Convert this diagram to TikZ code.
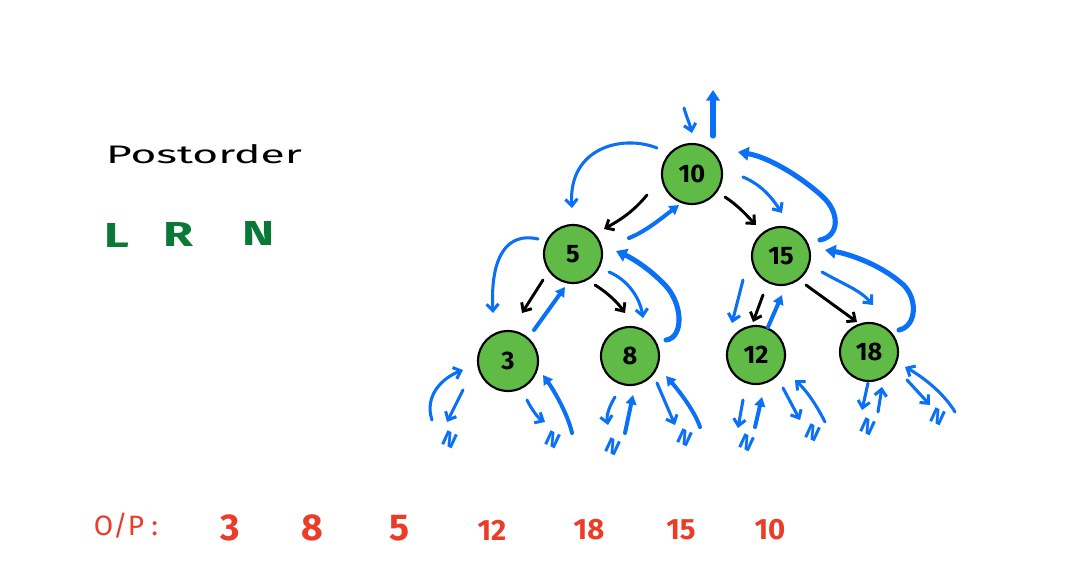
\documentclass[tikz,border=0pt]{standalone}
\usepackage{fontspec}
\setmainfont{Fira Sans}
\usepackage{graphicx}
\usetikzlibrary{arrows.meta,calc}
\definecolor{myblue}{RGB}{10,112,245}
\definecolor{nodegreen}{RGB}{96,186,70}
\definecolor{textgreen}{RGB}{10,120,55}
\definecolor{myred}{RGB}{235,60,40}
\begin{document}
\begin{tikzpicture}[x=0.75pt,y=-0.75pt,
  tnode/.style={circle,draw=black,line width=1.6pt,fill=nodegreen,minimum size=43.5pt,inner sep=0pt,
    font=\bfseries\fontsize{19}{19}\selectfont},
  bthin/.style={draw=myblue,line width=2.3pt,line cap=round,line join=round,-{Straight Barb[length=5pt,width=9pt]}},
  bmed/.style={draw=myblue,line width=3pt,line cap=round,line join=round,-{Triangle[length=7pt,width=8pt]}},
  bthick/.style={draw=myblue,line width=3.8pt,line cap=round,line join=round,-{Triangle[length=8pt,width=10pt]}},
  karrow/.style={draw=black,line width=2.2pt,line cap=round,line join=round,-{Straight Barb[length=5pt,width=9pt]}},
  nlab/.style={text=myblue,font=\bfseries\fontsize{16}{16}\selectfont,rotate=-25,inner sep=0pt},
  gtext/.style={text=textgreen,font=\bfseries\fontsize{26}{26}\selectfont,inner sep=0pt},
  rbig/.style={text=myred,font=\bfseries\fontsize{28}{28}\selectfont,inner sep=0pt},
  rsmall/.style={text=myred,font=\bfseries\fontsize{22}{22}\selectfont,inner sep=0pt}
]
\useasboundingbox (0,0) rectangle (1070,567);
\fill[white] (0,0) rectangle (1070,567);

% texts
\node[font=\fontsize{19}{19}\selectfont,inner sep=0pt] (title) at (204,154) {\scalebox{1.75}[1]{Postorder}};
\node[gtext] (L) at (117,235) {\scalebox{1.4}[1]{L}};
\node[gtext] (R) at (178,234) {\scalebox{1.4}[1]{R}};
\node[gtext] (N) at (259,233) {\scalebox{1.4}[1]{N}};

\node[text=myred,font=\fontsize{21}{21}\selectfont,inner sep=0pt] (op) at (126,526) {O/P :};
\node[rbig] (o1) at (230,528) {3};
\node[rbig] (o2) at (312,528) {8};
\node[rbig] (o3) at (399,528) {5};
\node[rsmall] (o4) at (492,530) {12};
\node[rsmall] (o5) at (589,530) {18};
\node[rsmall] (o6) at (681,530) {15};
\node[rsmall] (o7) at (770,530) {10};

% tree nodes
\node[tnode,minimum size=45pt] (n10) at (692,174) {10};
\node[tnode] (n5) at (573,254) {5};
\node[tnode] (n15) at (781,256) {15};
\node[tnode,minimum size=45pt] (n3) at (508,361) {3};
\node[tnode] (n8) at (630,356) {8};
\node[tnode] (n12) at (756,355) {12};
\node[tnode] (n18) at (869,352) {18};

% null labels
\node[nlab] (N3L) at (450,440) {N};
\node[nlab] (N3R) at (553,440) {N};
\node[nlab] (N8L) at (613,447) {N};
\node[nlab] (N8R) at (685,438) {N};
\node[nlab] (N12L) at (747,443) {N};
\node[nlab] (N12R) at (813,433) {N};
\node[nlab] (N18L) at (868,427) {N};
\node[nlab] (N18R) at (938,417) {N};

% around 10
\draw[bthin] ($(n10)+(-8,-66)$) .. controls (687,118) and (690,125) .. ($(n10)+(0,-41)$);
\draw[bthick] ($(n10)+(21,-38)$) -- ($(n10)+(21,-84)$);
\draw[bthin] ($(n10)+(-35,-26)$) .. controls (622,134) and (568,148) .. ($(n5)+(-1,-46)$);
\draw[bthin] ($(n10)+(51,3)$) .. controls (762,185) and (772,198) .. ($(n15)+(1,-43)$);
\draw[bthick] ($(n15)+(39,-16)$) .. controls (840,236) and (840,212) .. (822,196)
   .. controls (800,176) and (768,157) .. ($(n10)+(46,-22)$);
\draw[karrow] ($(n10)+(-45,21)$) .. controls (633,212) and (620,220) .. ($(n5)+(31,-25)$);
\draw[karrow] ($(n10)+(33,23)$) .. controls (740,207) and (747,216) .. ($(n15)+(-25,-31)$);
\draw[bmed] ($(n5)+(56,-16)$) .. controls (645,232) and (663,217) .. ($(n10)+(-13,31)$);

% around 5
\draw[bthin] ($(n5)+(-35,-15)$) .. controls (508,232) and (490,255) .. ($(n3)+(-15,-48)$);
\draw[karrow] ($(n5)+(-30,26)$) -- ($(n3)+(14,-48)$);
\draw[bmed] ($(n3)+(26,-31)$) -- ($(n5)+(-8,33)$);
\draw[karrow] ($(n5)+(22,31)$) .. controls (608,293) and (618,303) .. ($(n8)+(-5,-43)$);
\draw[bthin] ($(n5)+(36,18)$) .. controls (628,280) and (640,298) .. ($(n8)+(13,-38)$);
\draw[bthick] ($(n8)+(36,-16)$) .. controls (684,338) and (684,302) .. (662,282)
   .. controls (648,268) and (632,258) .. ($(n5)+(43,-3)$);

% around 3
\draw[bthin] ($(n3)+(-76,59)$) .. controls (424,396) and (442,378) .. ($(n3)+(-45,9)$);
\draw[bthin] ($(n3)+(-45,29)$) -- ($(N3L)+(-3,-18)$);
\draw[bthin] ($(n3)+(19,39)$) .. controls (532,410) and (538,418) .. ($(N3R)+(-8,-18)$);
\draw[bmed] ($(N3R)+(19,-7)$) .. controls (568,415) and (555,392) .. ($(n3)+(35,14)$);

% around 8
\draw[bthin] ($(n8)+(-15,41)$) .. controls (610,405) and (606,415) .. ($(N8L)+(-5,-22)$);
\draw[bmed] ($(N8L)+(12,-14)$) -- ($(n8)+(3,39)$);
\draw[bthin] ($(n8)+(27,27)$) -- ($(N8R)+(-10,-13)$);
\draw[bmed] ($(N8R)+(15,-11)$) .. controls (695,412) and (680,392) .. ($(n8)+(36,20)$);

% around 15
\draw[bthin] ($(n15)+(-38,24)$) -- ($(n12)+(-24,-32)$);
\draw[karrow] ($(n15)+(-18,39)$) -- ($(n12)+(-3,-33)$);
\draw[bmed] ($(n12)+(12,-28)$) -- ($(n15)+(1,39)$);
\draw[karrow] ($(n15)+(25,29)$) -- ($(n18)+(-12,-30)$);
\draw[bthin] ($(n15)+(41,16)$) .. controls (845,285) and (860,290) .. ($(n18)+(4,-47)$);
\draw[bthick] ($(n18)+(30,-22)$) .. controls (918,326) and (918,295) .. (900,282)
   .. controls (880,265) and (850,254) .. ($(n15)+(44,-6)$);

% around 12
\draw[bthin] ($(n12)+(-13,45)$) -- ($(N12L)+(-9,-15)$);
\draw[bmed] ($(N12L)+(8,-16)$) -- ($(n12)+(6,42)$);
\draw[bthin] ($(n12)+(27,33)$) -- ($(N12R)+(-13,-13)$);
\draw[bthin] ($(N12R)+(12,-11)$) .. controls (818,408) and (808,392) .. ($(n12)+(39,25)$);

% around 18
\draw[bthin] ($(n18)+(-1,31)$) -- ($(N18L)+(-6,-17)$);
\draw[bthin] ($(N18L)+(10,-15)$) -- ($(n18)+(13,35)$);
\draw[bthin] ($(n18)+(38,28)$) -- ($(N18R)+(-8,-12)$);
\draw[bthin] ($(N18R)+(17,-5)$) .. controls (945,395) and (925,378) .. ($(n18)+(36,15)$);
\end{tikzpicture}
\end{document}
